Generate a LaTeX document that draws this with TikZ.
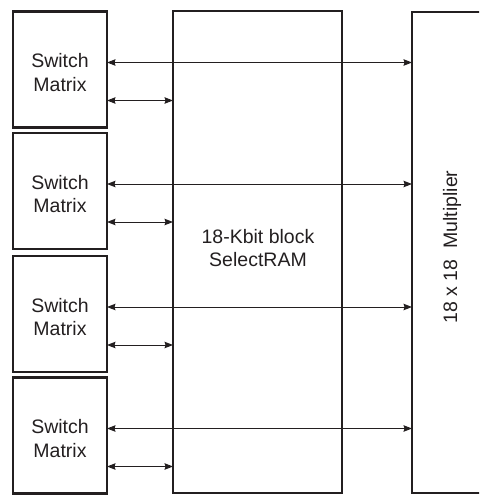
\documentclass[tikz,border=0pt]{standalone}
\usepackage{fontspec}
\setmainfont{Liberation Sans}
\usetikzlibrary{arrows.meta}
\definecolor{ink}{HTML}{231F20}
\begin{document}
\begin{tikzpicture}[x=1pt,y=-1pt,
  swbox/.style={draw=ink,line width=2.8pt,minimum width=94pt,minimum height=116pt,
    inner sep=0pt,outer sep=0pt},
  bigbox/.style={draw=ink,line width=2.6pt,inner sep=0pt,outer sep=0pt},
  lbl/.style={text=ink,font=\fontsize{19.5}{23.5}\selectfont,align=center},
  arr/.style={draw=ink,line width=1pt,{Stealth[length=8.5pt,width=6.5pt,inset=1pt]}-{Stealth[length=8.5pt,width=6.5pt,inset=1pt]}}]
\useasboundingbox (0,0) rectangle (479,495);
\begin{scope}
\clip (0,0) rectangle (479,495);
\node[swbox] (sm1) at (60,69.5) {};
\node[swbox] (sm2) at (60,191) {};
\node[swbox] (sm3) at (60,314) {};
\node[swbox] (sm4) at (60,435.5) {};
\foreach \i in {1,2,3,4}{
  \node[lbl] (smt\i) at ([yshift=-3pt]sm\i.center) {Switch\\Matrix};
}
\node[bigbox,minimum width=169pt,minimum height=482pt] (ram) at (257.5,252) {};
\node[bigbox,line width=2.2pt,minimum width=80pt,minimum height=481pt] (mul) at (452,252.5) {};
\node[lbl] (ramtxt) at (258,248) {18-Kbit block\\SelectRAM};
\node[lbl,rotate=90] (multxt) at (452,247) {18 x 18\ \ Multiplier};
\foreach \i in {1,2,3,4}{
  \draw[arr] ([yshift=7pt]sm\i.east) -- ([yshift=7pt]sm\i.east -| mul.west);
  \draw[arr] ([yshift=-31pt]sm\i.east) -- ([yshift=-31pt]sm\i.east -| ram.west);
}
\end{scope}
\end{tikzpicture}
\end{document}
